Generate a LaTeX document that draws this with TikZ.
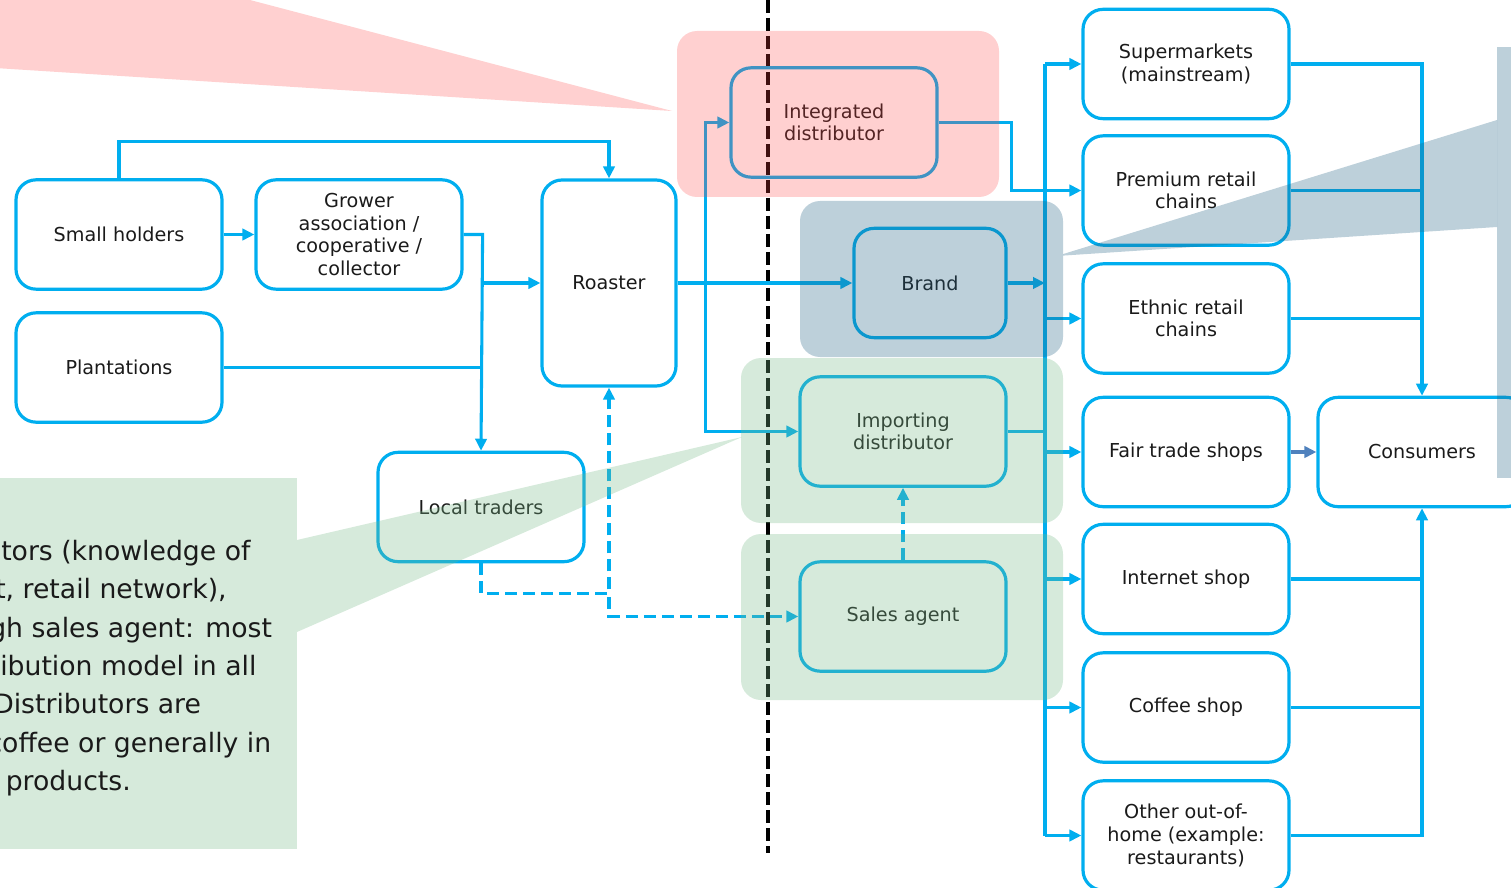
\documentclass[tikz,border=0pt]{standalone}
\usepackage{fontspec}
\setmainfont{DejaVu Sans}
\usetikzlibrary{arrows.meta}
\definecolor{cyanb}{RGB}{0,174,239}
\definecolor{steelb}{RGB}{79,129,189}
\definecolor{txt}{RGB}{26,26,26}
\definecolor{pinkC}{rgb}{1,0.264,0.264}
\definecolor{grayC}{rgb}{0.15,0.39,0.52}
\definecolor{greenC}{rgb}{0.467,0.733,0.533}
\tikzset{
  box/.style={draw=cyanb, line width=2.4pt, rounded corners=15pt, align=center, text=txt,
    font=\fontsize{14.4}{17}\selectfont, inner sep=0pt, minimum width=154.5pt, minimum height=82pt},
  conn/.style={draw=cyanb, line width=2.3pt},
  arr/.style={conn, -{Triangle[length=9pt,width=8.5pt]}},
  darr/.style={arr, dash pattern=on 9pt off 4.5pt},
  pinkov/.style={fill=pinkC, fill opacity=0.25},
  grayov/.style={fill=grayC, fill opacity=0.3},
  greenov/.style={fill=greenC, fill opacity=0.3},
  calltext/.style={anchor=base west, inner sep=0pt, text=txt, font=\fontsize{20}{28.7}\selectfont},
}
\begin{document}
\begin{tikzpicture}[x=0.75pt, y=-0.75pt]
\useasboundingbox (0,0) rectangle (1511,888);
\clip (0,0) rectangle (1511,888);

% dashed border line
\draw[line width=3pt, dash pattern=on 9.5pt off 4pt] (768,0) -- (768,853);

% boxes
\node[box] (sh) at (119,234.5) {Small holders};
\node[box] (gr) at (359,234.5) {Grower\\association /\\cooperative /\\collector};
\node[box] (pl) at (119,367.5) {Plantations};
\node[box, minimum width=100.5pt, minimum height=154.5pt] (ro) at (609,283) {Roaster};
\node[box] (lt) at (481,507) {Local traders};
\node[box] (id) at (834,122.5) {Integrated\\distributor};
\node[box, minimum width=114pt] (br) at (930,283) {Brand};
\node[box] (im) at (903,431.5) {Importing\\distributor};
\node[box] (sa) at (903,616.5) {Sales agent};
\node[box] (su) at (1186,64) {Supermarkets\\(mainstream)};
\node[box] (pr) at (1186,190.5) {Premium retail\\chains};
\node[box] (et) at (1186,318.5) {Ethnic retail\\chains};
\node[box] (ft) at (1186,452) {Fair trade shops};
\node[box] (in) at (1186,579) {Internet shop};
\node[box] (co) at (1186,707.5) {Coffee shop};
\node[box] (ot) at (1186,835.5) {Other out-of-\\home (example:\\restaurants)};
\node[box, minimum width=156pt] (cn) at (1422,452) {Consumers};

% connectors, supply side
\draw[arr] (sh.north) -- ++(0,-37) -| (ro.north);
\draw[arr] (sh.east) -- (gr.west);
\draw[arr] (gr.east) -- ++(19,0) |- (ro.west);
\draw[arr] (gr.east) -- ++(19,0) -- (lt.north);
\draw[conn] (pl.east) -- (lt.north |- pl.east);
\draw[darr] (lt.south) -- ++(0,30) -| (ro.south);
\draw[darr] (lt.south) -- ++(0,30) -- ++(128,0) |- (sa.west);

% roaster outputs
\draw[arr] (ro.east) -- (br.west);
\draw[arr] (ro.east) -- ++(28,0) |- (id.west);
\draw[arr] (ro.east) -- ++(28,0) |- (im.west);
\draw[darr] (sa.north) -- (im.south);
\draw[arr] (id.east) -- ++(73,0) |- (pr.west);

% distribution bus
\coordinate (bus) at (1045,0);
\draw[conn] (bus |- su.west) -- (bus |- ot.west);
\draw[arr] (br.east) -- (bus |- br.east);
\draw[conn] (im.east) -- (bus |- im.east);
\draw[arr] (bus |- su.west) -- (su.west);
\draw[arr] (bus |- et.west) -- (et.west);
\draw[arr] (bus |- ft.west) -- (ft.west);
\draw[arr] (bus |- in.west) -- (in.west);
\draw[arr] (bus |- co.west) -- (co.west);
\draw[arr] (bus |- ot.west) -- (ot.west);

% to consumers
\draw[arr] (su.east) -| (cn.north);
\draw[conn] (pr.east) -- (cn.north |- pr.east);
\draw[conn] (et.east) -- (cn.north |- et.east);
\draw[arr, draw=steelb] (ft.east) -- (cn.west);
\draw[arr] (ot.east) -| (cn.south);
\draw[conn] (in.east) -- (cn.south |- in.east);
\draw[conn] (co.east) -- (cn.south |- co.east);

% overlays
\fill[pinkov, rounded corners=15pt] (677,31) rectangle (999,197);
\fill[pinkov] (-5,-5) -- (250,-5) -- (250,0) -- (672,111) -- (-5,68) -- cycle;
\fill[grayov, rounded corners=15pt] (800,201) rectangle (1063,357);
\fill[grayov] (1063,254.1) -- (1497,120) -- (1497,227) -- (1063,255.6) -- cycle;
\fill[grayov] (1497,47) rectangle (1530,478);
\fill[greenov, rounded corners=15pt] (741,358) rectangle (1063,523);
\fill[greenov, rounded corners=15pt] (741,534) rectangle (1063,700);
\fill[greenov] (-5,478) rectangle (297,849);
\fill[greenov] (297,540) -- (742,437) -- (297,632) -- cycle;

% callout text
\node[calltext] (t1) at (1,560) {tors (knowledge of};
\node[calltext] (t2) at (-5,598) {t, retail network),};
\node[calltext] (t3) at (-11,637) {gh sales agent: most};
\node[calltext] (t4) at (0,675) {ibution model in all};
\node[calltext] (t5) at (-7,713) {Distributors are};
\node[calltext] (t6) at (-12.7,752) {coffee or generally in};
\node[calltext] (t7) at (5.5,790) {products.};
\end{tikzpicture}
\end{document}
